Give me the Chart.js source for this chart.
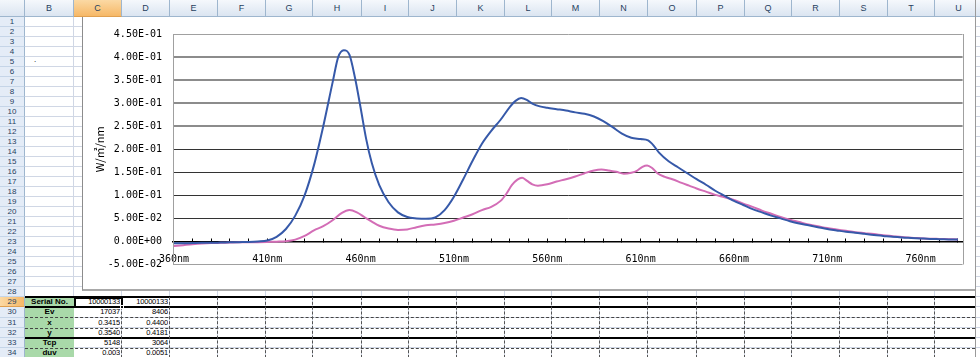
<!DOCTYPE html>
<html>
<head>
<meta charset="utf-8">
<script src="https://cdn.jsdelivr.net/npm/chart.js@4.4.1/dist/chart.umd.min.js"></script>
<style>
html, body { margin: 0; padding: 0; background: #fff; width: 980px; height: 357px; overflow: hidden; }
#sheet { position: absolute; left: 0; top: 0; width: 980px; height: 357px; font-family: "Liberation Sans", Arial, sans-serif; }
.c { position: absolute; box-sizing: border-box; white-space: nowrap; overflow: hidden; }
#chartBox { position: absolute; left: 82px; top: 17px; width: 893px; height: 274px; background: #fff;
  border-left: 1px solid #8c8c8c; border-bottom: 2px solid #a8a8a8; box-sizing: border-box; }
#chartWrap { position: absolute; left: 0; top: 0; width: 891px; height: 272px; }
</style>
</head>
<body>
<div id="sheet"></div>
<div id="chartBox"><div id="chartWrap"><canvas id="chart"></canvas></div></div>
<script>
// spectra (nm, W/m2/nm)
const blueNm = [360, 365, 370, 375, 380, 385, 390, 395, 400, 405, 410, 415, 420, 425, 430, 435, 440, 445, 448, 451, 454, 457, 460, 463, 466, 470, 475, 480, 485, 490, 495, 500, 505, 510, 515, 520, 525, 530, 535, 540, 543, 546, 549, 552, 556, 560, 565, 570, 575, 580, 585, 590, 595, 600, 605, 610, 614, 617, 620, 625, 630, 635, 640, 645, 650, 655, 660, 665, 670, 675, 680, 685, 690, 695, 700, 705, 710, 715, 720, 725, 730, 735, 740, 745, 750, 755, 760, 765, 770, 775, 780];
const blueW = [-0.004, -0.004, -0.0035, -0.003, -0.003, -0.0025, -0.002, -0.0015, -0.001, 0.0, 0.002, 0.010, 0.027, 0.056, 0.100, 0.165, 0.250, 0.345, 0.400, 0.415, 0.405, 0.355, 0.290, 0.222, 0.170, 0.122, 0.085, 0.063, 0.053, 0.050, 0.049, 0.052, 0.068, 0.097, 0.135, 0.175, 0.212, 0.240, 0.264, 0.292, 0.305, 0.311, 0.307, 0.299, 0.293, 0.290, 0.287, 0.284, 0.280, 0.277, 0.271, 0.261, 0.248, 0.234, 0.225, 0.222, 0.219, 0.208, 0.192, 0.174, 0.161, 0.148, 0.135, 0.123, 0.110, 0.099, 0.088, 0.079, 0.070, 0.063, 0.056, 0.050, 0.044, 0.039, 0.035, 0.031, 0.027, 0.024, 0.021, 0.019, 0.0165, 0.014, 0.012, 0.010, 0.0085, 0.0075, 0.0065, 0.0055, 0.005, 0.0045, 0.004];

const pinkNm = [360, 365, 370, 375, 380, 385, 390, 395, 400, 405, 410, 415, 420, 425, 430, 435, 440, 445, 450, 454, 458, 462, 466, 470, 475, 480, 485, 490, 495, 500, 505, 510, 515, 520, 525, 530, 535, 538, 541, 544, 546.5, 549, 552, 555, 560, 565, 570, 575, 580, 585, 589, 593, 597, 601, 605, 608, 611, 613.5, 616, 619, 623, 627, 632, 636, 640, 645, 650, 655, 660, 665, 670, 675, 680, 685, 690, 695, 700, 705, 710, 715, 720, 725, 730, 735, 740, 745, 750, 755, 760, 765, 770, 775, 780];
const pinkW = [-0.010, -0.008, -0.006, -0.0045, -0.0035, -0.003, -0.0025, -0.002, -0.002, -0.0015, -0.001, -0.0005, 0.0005, 0.004, 0.012, 0.024, 0.033, 0.046, 0.062, 0.068, 0.063, 0.053, 0.043, 0.034, 0.028, 0.025, 0.026, 0.031, 0.035, 0.037, 0.040, 0.045, 0.052, 0.059, 0.068, 0.075, 0.088, 0.103, 0.122, 0.134, 0.138, 0.132, 0.124, 0.121, 0.124, 0.130, 0.135, 0.141, 0.148, 0.154, 0.156, 0.154, 0.151, 0.147, 0.149, 0.153, 0.162, 0.165, 0.160, 0.148, 0.140, 0.135, 0.127, 0.121, 0.115, 0.108, 0.101, 0.096, 0.090, 0.082, 0.075, 0.067, 0.060, 0.053, 0.047, 0.042, 0.037, 0.033, 0.029, 0.026, 0.023, 0.020, 0.018, 0.016, 0.0135, 0.0115, 0.0095, 0.008, 0.007, 0.006, 0.0055, 0.005, 0.0045];

const tickNm = [360, 370, 380, 390, 400, 410, 420, 430, 440, 450, 460, 470, 480, 490, 500, 510, 520, 530, 540, 550, 560, 570, 580, 590, 600, 610, 620, 630, 640, 650, 660, 670, 680, 690, 700, 710, 720, 730, 740, 750, 760, 770, 780];

// worksheet contents
const colLetters = ['B', 'C', 'D', 'E', 'F', 'G', 'H', 'I', 'J', 'K', 'L', 'M', 'N', 'O', 'P', 'Q', 'R', 'S', 'T', 'U'];
const statLabels = ['Serial No.', 'Ev', 'x', 'y', 'Tcp', 'duv'];
const sample1 = ['10000133', '17037', '0.3415', '0.3540', '5148', '0.003'];
const sample2 = ['10000133', '8406', '0.4400', '0.4181', '3064', '0.0051'];

// ---- sheet backdrop ----
const colEdges = [25, 74, 122, 170, 218, 266, 313, 362, 409, 457, 505, 552, 600, 648, 697, 745, 792, 840, 888, 935, 983];
const rowEdges = [];
for (let n = 0; n < 29; n++) rowEdges.push(17 + n * 10);
rowEdges.push(307, 317.5, 328, 337.5, 348, 358.5);

const sheet = document.getElementById('sheet');
function box(x, y, w, h, css, text) {
  const d = document.createElement('div');
  d.className = 'c';
  Object.assign(d.style, { left: x + 'px', top: y + 'px', width: w + 'px', height: h + 'px' }, css || {});
  if (text != null) d.textContent = text;
  sheet.appendChild(d);
  return d;
}

// cell grid
colEdges.forEach(x => box(x - 1, 17, 1, 340, { background: '#d0d7e5' }));
rowEdges.forEach(y => box(25, y - 1, 955, 1, { background: '#d0d7e5' }));

// column headers
box(0, 0, 25, 17, { background: 'linear-gradient(#f3f7fb,#dbe5f1)', borderRight: '1px solid #9eb6ce', borderBottom: '1px solid #9eb6ce' });
colLetters.forEach((l, i) => {
  const sel = l === 'C';
  box(colEdges[i], 0, colEdges[i + 1] - colEdges[i], 17, {
    background: sel ? 'linear-gradient(#fbd9a4,#f6b867)' : 'linear-gradient(#f5f8fc,#dbe5f1)',
    borderRight: '1px solid #9eb6ce', borderBottom: '1px solid ' + (sel ? '#e0a050' : '#9eb6ce'),
    font: '9px "Liberation Sans"', color: '#27415f', textAlign: 'center', lineHeight: '17px'
  }, l);
});

// row headers
for (let r = 1; r <= 34; r++) {
  const y0 = rowEdges[r - 1], y1 = rowEdges[r];
  const sel = r === 29;
  box(0, y0, 25, y1 - y0, {
    background: sel ? 'linear-gradient(90deg,#fbd9a4,#f6b867)' : '#e4ecf7',
    borderRight: '1px solid #9eb6ce', borderBottom: '1px solid ' + (sel ? '#e0a050' : '#c5d5e8'),
    font: '8px "Liberation Sans"', color: '#27415f', textAlign: 'center', lineHeight: (y1 - y0) + 'px'
  }, String(r));
}
box(34, 55, 4, 8, { font: '8px "Liberation Sans"', color: '#000' }, '.');

// table rows 29..34
for (let k = 0; k < 6; k++) {
  const y0 = rowEdges[28 + k], h = rowEdges[29 + k] - y0;
  box(25, y0, 49, h, { background: '#a9d9a9', font: 'bold 8px "Liberation Sans"', color: '#000', textAlign: 'center', lineHeight: h + 'px' }, statLabels[k]);
  box(74, y0, 46, h, { font: '7.5px "Liberation Sans"', color: '#000', textAlign: 'right', lineHeight: h + 'px', letterSpacing: '-0.2px' }, sample1[k]);
  box(122, y0, 46, h, { font: '7.5px "Liberation Sans"', color: '#000', textAlign: 'right', lineHeight: h + 'px', letterSpacing: '-0.2px' }, sample2[k]);
}
const solidRows = [297, 307, 337.5];
const dashRows = [317.5, 328, 348];
solidRows.forEach(y => box(25, y - 1, 950, 2, { background: '#000' }));
dashRows.forEach(y => box(25, y - 0.5, 950, 1, { borderTop: '1px dashed #444' }));
colEdges.slice(2).forEach(x => box(x - 1, 297, 1, 61, { borderLeft: '1px dashed #555' }));
box(74, 297, 49, 11, { border: '2px solid #000' });
box(120, 305, 4, 4, { background: '#000', border: '1px solid #fff' });
box(975, 0, 1, 357, { background: '#9a9a9a' });

// ---- chart ----
function fmtE(v) {
  if (Math.abs(v) < 1e-9) return '0.00E+00';
  const s = Number(v).toExponential(2).toUpperCase();
  return s.replace(/E([+-])(\d+)$/, (m, sg, d) => 'E' + sg + (d.length < 2 ? '0' + d : d));
}

const plotFrame = {
  id: 'plotFrame',
  beforeDatasetsDraw(chart) {
    const { ctx, chartArea: a } = chart;
    ctx.save();
    ctx.strokeStyle = '#a0a0a0';
    ctx.lineWidth = 1;
    ctx.beginPath();
    ctx.moveTo(Math.round(a.right) + 0.5, a.top);
    ctx.lineTo(Math.round(a.right) + 0.5, a.bottom);
    ctx.stroke();
    ctx.restore();
  }
};

const monoFont = { family: '"DejaVu Sans Mono", monospace', size: 10 };

new Chart(document.getElementById('chart'), {
  type: 'line',
  data: {
    datasets: [
      {
        label: 'sample 1',
        data: blueNm.map((x, i) => ({ x: x, y: blueW[i] })),
        borderColor: '#3659a9',
        borderWidth: 2,
        pointRadius: 0,
        cubicInterpolationMode: 'monotone'
      },
      {
        label: 'sample 2',
        data: pinkNm.map((x, i) => ({ x: x, y: pinkW[i] })),
        borderColor: '#d36db6',
        borderWidth: 2,
        pointRadius: 0,
        cubicInterpolationMode: 'monotone'
      }
    ]
  },
  options: {
    responsive: true,
    maintainAspectRatio: false,
    animation: false,
    layout: { padding: { left: 10, right: 11, top: 12.5, bottom: 24.5 } },
    plugins: { legend: { display: false }, tooltip: { enabled: false } },
    scales: {
      x: {
        type: 'linear',
        position: { y: 0 },
        min: 359.5,
        max: 782.5,
        afterBuildTicks: s => { s.ticks = tickNm.map(v => ({ value: v })); },
        grid: { drawOnChartArea: false, drawTicks: true, tickLength: -4, color: '#000' },
        border: { color: '#000', width: 1.5 },
        ticks: {
          autoSkip: false,
          maxRotation: 0,
          minRotation: 0,
          padding: 16,
          color: '#000',
          font: monoFont,
          callback: v => ((v - 360) % 50 === 0 ? v + 'nm' : '')
        }
      },
      y: {
        min: -0.05,
        max: 0.45,
        afterFit: s => { s.width = 80; },
        border: { color: '#a0a0a0' },
        grid: {
          drawTicks: false,
          color: c => {
            const v = c.tick.value;
            if (Math.abs(v) < 1e-9) return '#000';
            if (v > 0.44 || v < -0.04) return '#a0a0a0';
            return v > 0.24 ? '#8c8c8c' : '#333';
          },
          lineWidth: c => {
            const v = c.tick.value;
            return (v > 0.24 && v < 0.44) ? 2 : 1;
          }
        },
        ticks: { stepSize: 0.05, padding: 11, color: '#000', font: monoFont, callback: fmtE },
        title: {
          display: true,
          text: 'W/㎡/nm',
          color: '#000',
          padding: 0,
          font: { family: '"Noto Sans CJK JP", sans-serif', size: 11 }
        }
      }
    }
  },
  plugins: [plotFrame]
});
</script>
</body>
</html>
